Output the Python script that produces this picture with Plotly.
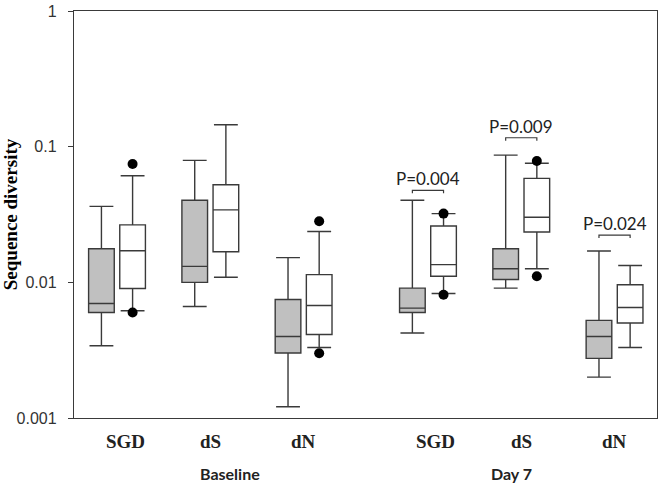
import math
import plotly.graph_objects as go

# ---------------- data ----------------
categories = ["SGD", "dS", "dN", "SGD", "dS", "dN"]
periods = ["Baseline", "Day 7"]

# grey boxes
grey_upper = [0.0363, 0.0793, 0.0152, 0.0403, 0.0867, 0.0170]
grey_q3 = [0.0177, 0.0403, 0.00747, 0.00906, 0.0177, 0.00524]
grey_median = [0.00698, 0.0131, 0.00399, 0.00646, 0.0126, 0.00399]
grey_q1 = [0.0060, 0.0100, 0.00301, 0.0060, 0.0105, 0.00275]
grey_lower = [0.00341, 0.00664, 0.00121, 0.00423, 0.00906, 0.0020]

# white boxes
white_upper = [0.0611, 0.145, 0.0237, 0.0321, 0.0754, 0.0133]
white_q3 = [0.0265, 0.0524, 0.0114, 0.0260, 0.0584, 0.0096]
white_median = [0.0171, 0.0342, 0.00675, 0.0135, 0.0302, 0.00653]
white_q1 = [0.0090, 0.0168, 0.00413, 0.0111, 0.0235, 0.00501]
white_lower = [0.00617, 0.0109, 0.00331, 0.00827, 0.0126, 0.00331]

# outliers of white boxes: (group index, value)
white_outlier_group = [0, 0, 2, 2, 3, 3, 4, 4]
white_outlier_value = [0.0745, 0.0060, 0.0282, 0.0030, 0.0321, 0.0081, 0.0783, 0.0111]

# significance labels: (group index, text, bracket level)
p_group = [3, 4, 5]
p_text = ["P=0.004", "P=0.009", "P=0.024"]
p_level = [0.0477, 0.1163, 0.0223]

y_ticks = [0.001, 0.01, 0.1, 1]
y_ticktext = ["0.001", "0.01", "0.1", "1"]

# ---------------- layout helpers ----------------
period_gap = 1.333
group_pos = [1 + i + (period_gap - 1 if i >= 3 else 0) for i in range(6)]
offset = 0.167
box_w = 0.275
grey_x = [p - offset for p in group_pos]
white_x = [p + offset for p in group_pos]
period_label_shift = [20, -10]

LINE = "#3a3a3a"

fig = go.Figure()

fig.add_trace(go.Box(
    x=grey_x, q1=grey_q1, median=grey_median, q3=grey_q3,
    lowerfence=grey_lower, upperfence=grey_upper,
    width=box_w, whiskerwidth=0.93, boxpoints=False,
    fillcolor="#c0c0c0", line=dict(color=LINE, width=1.4),
    showlegend=False, hoverinfo="skip"))

fig.add_trace(go.Box(
    x=white_x, q1=white_q1, median=white_median, q3=white_q3,
    lowerfence=white_lower, upperfence=white_upper,
    width=box_w, whiskerwidth=0.93, boxpoints=False,
    fillcolor="white", line=dict(color=LINE, width=1.4),
    showlegend=False, hoverinfo="skip"))

fig.add_trace(go.Scatter(
    x=[white_x[g] for g in white_outlier_group], y=white_outlier_value,
    mode="markers", marker=dict(color="black", size=10),
    showlegend=False, hoverinfo="skip"))

annotations = []
tick_factor = 0.95
for g, t, lv in zip(p_group, p_text, p_level):
    fig.add_trace(go.Scatter(
        x=[grey_x[g], grey_x[g], white_x[g], white_x[g]],
        y=[lv * tick_factor, lv, lv, lv * tick_factor],
        mode="lines", line=dict(color=LINE, width=1.2),
        showlegend=False, hoverinfo="skip"))
    annotations.append(dict(
        x=group_pos[g], y=math.log10(lv), xref="x", yref="y",
        text=t, showarrow=False, yanchor="bottom", yshift=-1,
        font=dict(family="Lato", size=17, color="#222")))

for i, c in enumerate(categories):
    annotations.append(dict(
        x=group_pos[i], y=0, xref="x", yref="paper", yanchor="middle",
        yshift=-23, xshift=8 if c == "SGD" else 0,
        text=f"<b>{c}</b>", showarrow=False,
        font=dict(family="Liberation Serif", size=19, color="#222")))

for k, per in enumerate(periods):
    xs = group_pos[3 * k: 3 * k + 3]
    annotations.append(dict(
        x=sum(xs) / 3, y=0, xref="x", yref="paper", yanchor="middle",
        yshift=-55, xshift=period_label_shift[k], text=f"<b>{per}</b>", showarrow=False,
        font=dict(family="Lato", size=16, color="#222")))

fig.update_layout(
    width=662, height=487,
    margin=dict(l=74, r=5, t=11, b=69),
    plot_bgcolor="white", paper_bgcolor="white",
    boxmode="overlay",
    annotations=annotations,
    xaxis=dict(range=[0.539, 6.788], showticklabels=False, ticks="",
               showgrid=False, zeroline=False, showline=True, mirror=True,
               linecolor=LINE, linewidth=1.4),
    yaxis=dict(type="log", range=[-3, 0], tickvals=y_ticks, ticktext=y_ticktext,
               ticks="outside", ticklen=5, tickwidth=1.3, tickcolor=LINE,
               ticklabelstandoff=8,
               showgrid=False, zeroline=False, showline=True, mirror=True,
               linecolor=LINE, linewidth=1.4, automargin=False,
               tickfont=dict(family="Liberation Sans", size=16, color="#333"),
               title=dict(text="<b>Sequence diversity</b>", standoff=2,
                          font=dict(family="Liberation Serif", size=19, color="black"))),
)

fig.write_html("out.html", config={"displayModeBar": False},
               post_script="document.body.style.margin='0';document.body.style.overflow='hidden';")
